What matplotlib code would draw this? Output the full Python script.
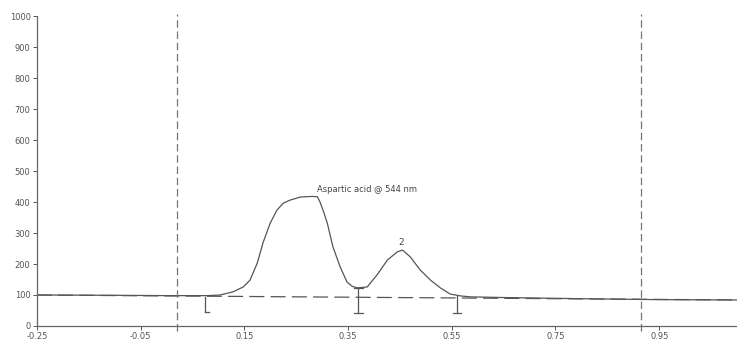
import matplotlib.pyplot as plt

# retention time (min) and detector signal
rt = [-0.25, -0.10, 0.00, 0.08, 0.103, 0.128, 0.148, 0.161, 0.175, 0.186,
      0.200, 0.213, 0.225, 0.238, 0.258, 0.280, 0.291, 0.296, 0.303, 0.310,
      0.321, 0.335, 0.348, 0.358, 0.368, 0.387, 0.406, 0.426, 0.445, 0.455,
      0.470, 0.489, 0.509, 0.528, 0.547, 0.567, 0.586, 0.644, 0.80, 0.95, 1.10]
signal = [100, 99, 98, 98, 100, 110, 126, 148, 203, 268,
          332, 374, 396, 406, 416, 418, 417, 400, 368, 332,
          255, 190, 142, 128, 123, 126, 165, 213, 239, 245,
          223, 181, 148, 123, 103, 97, 94, 92, 88, 85, 84]

# baseline (dashed) end points
base_rt = [-0.25, 1.10]
base_sig = [100, 84]

# integration marks: (rt, top, bottom)
marks_rt = [0.074, 0.370, 0.560]
marks_top = [92, 122, 96]
marks_bot = [45, 42, 42]

window = [0.02, 0.914]

fig = plt.figure(figsize=(7.37, 3.41), dpi=100)
ax = fig.add_axes([0.050, 0.044, 0.950, 0.909])

col = '#555555'
ax.plot(rt, signal, color=col, lw=0.9)
ax.plot(base_rt, base_sig, color=col, lw=0.9, dashes=(12, 5))

for x in window:
    ax.plot([x, x], [-15, 1005], color='#777777', lw=0.9, dashes=(6, 3), clip_on=False)

for i, (x, t, b) in enumerate(zip(marks_rt, marks_top, marks_bot)):
    ax.plot([x, x], [b, t], color=col, lw=0.9)
    left = x if i == 0 else x - 0.008
    ax.plot([left, x + 0.008], [b, b], color=col, lw=0.9)
ax.plot([marks_rt[1] - 0.008, marks_rt[1] + 0.008], [marks_top[1], marks_top[1]], color=col, lw=0.9)

ax.text(0.29, 425, 'Aspartic acid @ 544 nm', fontsize=6, color='#444444', va='bottom', ha='left')
ax.text(0.452, 255, '2', fontsize=6.5, color='#444444', va='bottom', ha='center')

ax.set_xlim(-0.25, 1.10)
ax.set_ylim(0, 1000)
ax.set_xticks([-0.25, -0.05, 0.15, 0.35, 0.55, 0.75, 0.95])
ax.set_xticklabels(['-0.25', '-0.05', '0.15', '0.35', '0.55', '0.75', '0.95'])
ax.set_yticks(range(0, 1001, 100))

for s in ['top', 'right']:
    ax.spines[s].set_visible(False)
for s in ['left', 'bottom']:
    ax.spines[s].set_color('#666666')
    ax.spines[s].set_linewidth(0.9)
ax.tick_params(axis='both', labelsize=6, colors='#555555', length=3, width=0.7, pad=1.5)

fig.savefig('out.png', dpi=100)
